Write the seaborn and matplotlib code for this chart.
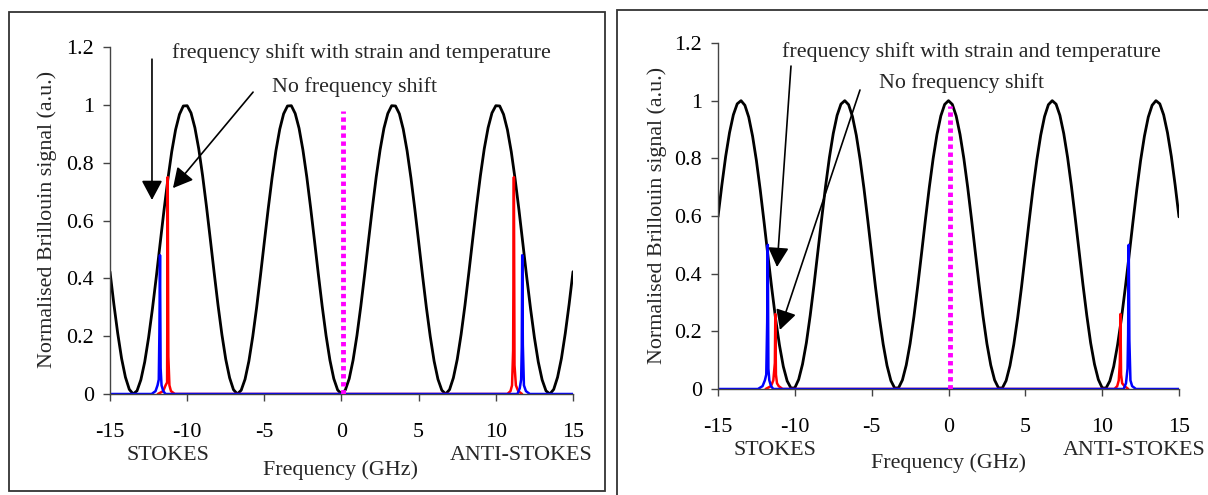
import numpy as np
import pandas as pd
import matplotlib
matplotlib.use("Agg")
import matplotlib.pyplot as plt
import seaborn as sns
from matplotlib.patches import Rectangle

# ---------------- data ----------------
freq_half = [0.0, 0.25, 0.5, 0.75, 1.0, 1.25, 1.5, 1.75, 2.0, 2.25, 2.5, 2.75, 3.0, 3.25,
             3.5, 3.75, 4.0, 4.25, 4.5, 4.75, 5.0, 5.25, 5.5, 5.75, 6.0, 6.25, 6.5, 6.75,
             7.0, 7.25, 7.5, 7.75, 8.0, 8.25, 8.5, 8.75, 9.0, 9.25, 9.5, 9.75, 10.0, 10.25,
             10.5, 10.75, 11.0, 11.25, 11.5, 11.75, 12.0, 12.25, 12.5, 12.75, 13.0, 13.25,
             13.5, 13.75, 14.0, 14.25, 14.5, 14.75, 15.0]

# filter transmission (left panel), symmetric about 0
filter_left_half = [0.000, 0.014, 0.053, 0.117, 0.202, 0.303, 0.414, 0.530, 0.644, 0.751,
                    0.844, 0.919, 0.970, 0.997, 0.996, 0.969, 0.916, 0.841, 0.747, 0.640,
                    0.526, 0.410, 0.299, 0.199, 0.114, 0.051, 0.013, 0.000, 0.015, 0.056,
                    0.120, 0.206, 0.307, 0.419, 0.535, 0.649, 0.755, 0.848, 0.921, 0.972,
                    0.997, 0.996, 0.967, 0.914, 0.838, 0.743, 0.636, 0.521, 0.405, 0.295,
                    0.195, 0.111, 0.049, 0.011, 0.000, 0.016, 0.058, 0.123, 0.210, 0.311,
                    0.423]

# filter transmission (right panel), symmetric about 0
filter_right_half = [1.000, 0.987, 0.947, 0.883, 0.799, 0.699, 0.588, 0.472, 0.358, 0.251,
                     0.157, 0.083, 0.031, 0.004, 0.003, 0.029, 0.081, 0.155, 0.247, 0.353,
                     0.468, 0.584, 0.695, 0.795, 0.880, 0.945, 0.986, 1.000, 0.988, 0.949,
                     0.886, 0.803, 0.703, 0.592, 0.477, 0.362, 0.255, 0.160, 0.086, 0.033,
                     0.004, 0.003, 0.028, 0.078, 0.152, 0.243, 0.349, 0.462, 0.578, 0.690,
                     0.792, 0.877, 0.943, 0.984, 1.000, 0.989, 0.951, 0.889, 0.807, 0.707,
                     0.597]

# Brillouin spectra, left panel
blue_left_f = [-15.0, -12.3, -12.05, -11.92, -11.84, -11.8, -11.76, -11.72, -11.66, -11.55,
               -11.4, 11.4, 11.55, 11.64, 11.68, 11.71, 11.75, 11.82, 11.95, 12.2, 15.0]
blue_left_v = [0.0, 0.0, 0.01, 0.03, 0.05, 0.21, 0.48, 0.09, 0.03, 0.01,
               0.0, 0.0, 0.02, 0.05, 0.16, 0.48, 0.17, 0.03, 0.01, 0.0, 0.0]
red_left_f = [-11.9, -11.55, -11.4, -11.3, -11.26, -11.22, -11.15, -11.05, -10.8,
              10.75, 10.95, 11.05, 11.12, 11.17, 11.21, 11.3, 11.45, 11.7]
red_left_v = [0.0, 0.01, 0.03, 0.04, 0.75, 0.13, 0.03, 0.01, 0.0,
              0.0, 0.01, 0.03, 0.15, 0.75, 0.1, 0.03, 0.01, 0.0]

# Brillouin spectra, right panel
blue_right_f = [-15.0, -12.4, -12.1, -11.95, -11.86, -11.8, -11.76, -11.72, -11.66, -11.55,
                -11.4, 11.4, 11.55, 11.65, 11.69, 11.73, 11.77, 11.84, 11.95, 12.2, 15.0]
blue_right_v = [0.0, 0.0, 0.01, 0.03, 0.05, 0.23, 0.50, 0.07, 0.03, 0.01,
                0.0, 0.0, 0.02, 0.07, 0.19, 0.50, 0.17, 0.03, 0.01, 0.0, 0.0]
red_right_f = [-11.9, -11.55, -11.4, -11.3, -11.27, -11.23, -11.16, -11.05, -10.8,
               10.8, 10.98, 11.08, 11.15, 11.19, 11.23, 11.3, 11.45, 11.7]
red_right_v = [0.0, 0.01, 0.03, 0.09, 0.26, 0.05, 0.02, 0.01, 0.0,
               0.0, 0.01, 0.03, 0.09, 0.26, 0.05, 0.02, 0.01, 0.0]

pump_f = [0.1, 0.1]
pump_v = [0.0, 0.98]

x_ticks = [-15, -10, -5, 0, 5, 10, 15]
y_ticks = [0, 0.2, 0.4, 0.6, 0.8, 1.0, 1.2]
y_ticklabels = ["0", "0.2", "0.4", "0.6", "0.8", "1", "1.2"]

ylabel_text = "Normalised Brillouin signal (a.u.)"
xlabel_text = "Frequency (GHz)"
ann_shift = "frequency shift with strain and temperature"
ann_noshift = "No frequency shift"

# ---------------- build full curves ----------------
freq_full = [-f for f in freq_half[::-1]] + freq_half[1:]
filt_left = filter_left_half[::-1] + filter_left_half[1:]
filt_right = filter_right_half[::-1] + filter_right_half[1:]

sns.set_theme(style="white")
plt.rcParams["font.family"] = ["Liberation Serif", "DejaVu Serif"]
FS = 15.8

fig = plt.figure(figsize=(12.08, 4.95), dpi=100)
W, H = 1208.0, 495.0

def axes_from_px(x0, x1, ytop, ybot):
    return fig.add_axes([x0 / W, 1 - ybot / H, (x1 - x0) / W, (ybot - ytop) / H])

axL = axes_from_px(110, 573, 47, 394)
axR = axes_from_px(718, 1179, 43, 389)

panels = [
    (axL, filt_left, blue_left_f, blue_left_v, red_left_f, red_left_v),
    (axR, filt_right, blue_right_f, blue_right_v, red_right_f, red_right_v),
]

for ax, filt, bf, bv, rf, rv in panels:
    df = pd.DataFrame({"f": freq_full, "v": filt})
    sns.lineplot(data=df, x="f", y="v", ax=ax, color="black", lw=2.0, sort=False)
    sns.lineplot(x=rf, y=rv, ax=ax, color="#ff0000", lw=1.8, sort=False, estimator=None)
    sns.lineplot(x=bf, y=bv, ax=ax, color="#0000ff", lw=1.8, sort=False, estimator=None)
    ax.plot(pump_f, pump_v, color="#ff00ff", lw=3.5, linestyle=(0, (0.9, 0.75)),
            solid_capstyle="butt", dash_capstyle="butt", zorder=5)
    ax.set_xlim(-15, 15)
    ax.set_ylim(0, 1.2)
    ax.set_xticks(x_ticks)
    ax.set_xticklabels([str(t) for t in x_ticks])
    ax.set_yticks(y_ticks)
    ax.set_yticklabels(y_ticklabels)
    ax.tick_params(axis="both", direction="out", width=1, color="#444444",
                   labelsize=FS, labelcolor="black")
    ax.tick_params(axis="x", pad=15.8, length=5, bottom=True)
    ax.tick_params(axis="y", pad=6.5, length=5, left=True)
    for s in ["top", "right"]:
        ax.spines[s].set_visible(False)
    for s in ["left", "bottom"]:
        ax.spines[s].set_color("#444444")
        ax.spines[s].set_linewidth(1.0)
    ax.set_facecolor("none")
    ax.set_ylabel(ylabel_text, fontsize=FS)
    ax.set_xlabel(xlabel_text, fontsize=FS)
    ax.grid(False)

axL.yaxis.set_label_coords(-0.114, 0.504)
axR.yaxis.set_label_coords(-0.111, 0.503)
axL.xaxis.set_label_coords(0.497, -0.19)
axR.xaxis.set_label_coords(0.499, -0.185)

trL = axL.get_xaxis_transform()
trR = axR.get_xaxis_transform()
axL.text(-11.24, -0.177, "STOKES", transform=trL, ha="center", va="center", fontsize=FS)
axL.text(11.64, -0.177, "ANTI-STOKES", transform=trL, ha="center", va="center", fontsize=FS)
axR.text(-11.29, -0.178, "STOKES", transform=trR, ha="center", va="center", fontsize=FS)
axR.text(12.07, -0.178, "ANTI-STOKES", transform=trR, ha="center", va="center", fontsize=FS)

# annotations
axL.text(-10.98, 1.162, ann_shift, ha="left", va="baseline", fontsize=FS)
axL.text(-4.50, 1.044, ann_noshift, ha="left", va="baseline", fontsize=FS)
axR.text(-10.84, 1.151, ann_shift, ha="left", va="baseline", fontsize=FS)
axR.text(-4.52, 1.044, ann_noshift, ha="left", va="baseline", fontsize=FS)

aprops = dict(arrowstyle="-|>,head_length=0.6,head_width=0.32", mutation_scale=20,
              color="black", lw=1.2, shrinkA=0, shrinkB=0)
axL.annotate("", xy=(-12.28, 0.671), xytext=(-12.28, 1.158), arrowprops=aprops, annotation_clip=False)
axL.annotate("", xy=(-10.92, 0.712), xytext=(-5.73, 1.044), arrowprops=aprops, annotation_clip=False)
axR.annotate("", xy=(-11.16, 0.423), xytext=(-10.25, 1.12), arrowprops=aprops, annotation_clip=False)
axR.annotate("", xy=(-10.97, 0.205), xytext=(-5.76, 1.037), arrowprops=aprops, annotation_clip=False)

# panel frames
fig.patches.append(Rectangle((9 / W, 1 - 491 / H), 596 / W, 479 / H, transform=fig.transFigure,
                             fill=False, edgecolor="#333333", lw=1.3, zorder=0))
fig.patches.append(Rectangle((617 / W, -0.05), 0.6, 1 - 10 / H + 0.05, transform=fig.transFigure,
                             fill=False, edgecolor="#333333", lw=1.3, zorder=0))

fig.savefig("out.png", dpi=100, facecolor="white")
